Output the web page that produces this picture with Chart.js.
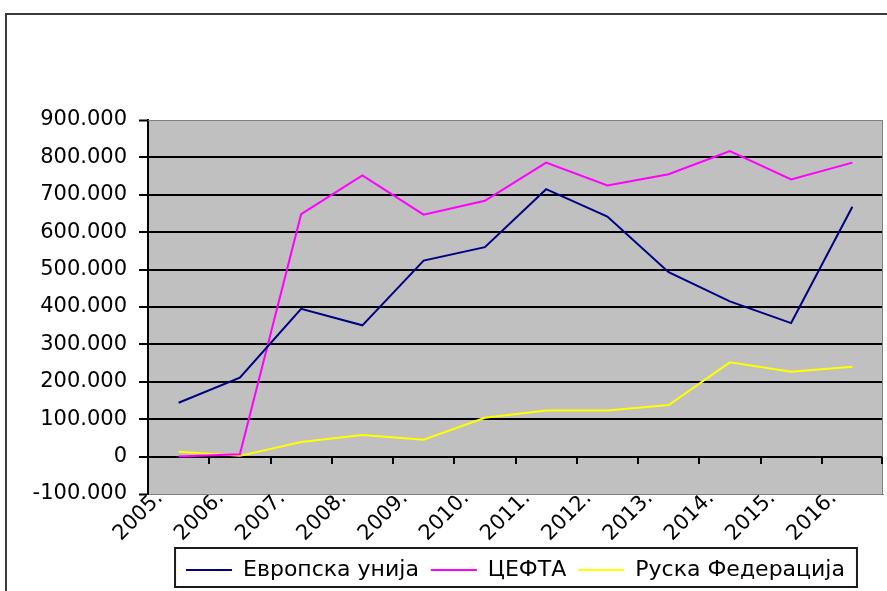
<!DOCTYPE html>
<html><head><meta charset="utf-8">
<script src="https://cdn.jsdelivr.net/npm/chart.js@4.4.1/dist/chart.umd.min.js"></script>
<style>
html,body{margin:0;padding:0;background:#fff;overflow:hidden;width:887px;height:591px}
#wrap{position:absolute;left:0;top:0;width:887px;height:591px}
</style></head><body>
<div id="wrap"><canvas id="c" width="887" height="591"></canvas></div>
<script>
const years = ['2005.','2006.','2007.','2008.','2009.','2010.','2011.','2012.','2013.','2014.','2015.','2016.'];
const euValues = [144000, 211000, 395000, 351000, 524000, 560000, 715000, 642000, 493000, 415000, 357000, 668000];
const ceftaValues = [0, 6000, 648000, 752000, 647000, 684000, 786000, 725000, 755000, 817000, 741000, 786000];
const russiaValues = [13000, 2000, 39000, 58000, 45000, 104000, 123000, 123000, 138000, 252000, 227000, 240000];
const seriesNames = ['Европска унија', 'ЦЕФТА', 'Руска Федерација'];
const yMin = -100000, yMax = 900000, yStep = 100000;

const FONT = 'DejaVu Sans';
function fmt(v){
  const s = String(Math.abs(v)).replace(/\B(?=(\d{3})+(?!\d))/g, '.');
  return (v < 0 ? '-' : '') + s;
}

const framePlugin = {
  id: 'framePlugin',
  beforeDraw(chart){
    const {ctx, chartArea: a, width, height} = chart;
    ctx.save();
    ctx.fillStyle = '#3a3a3a';
    ctx.fillRect(5, 13, 2, height - 13);
    ctx.fillRect(5, 13, width - 5, 2);
    ctx.fillStyle = '#c0c0c0';
    ctx.fillRect(a.left, a.top, a.right - a.left, a.bottom - a.top);
    ctx.restore();
    ctx.beginPath();
  },
  beforeDatasetsDraw(chart){
    const {ctx, chartArea: a} = chart;
    const xs = chart.scales.x, ys = chart.scales.y;
    ctx.save();
    ctx.strokeStyle = '#808080';
    ctx.lineWidth = 1;
    ctx.beginPath();
    ctx.moveTo(a.left, a.top + 0.5);
    ctx.lineTo(a.right - 0.5, a.top + 0.5);
    ctx.lineTo(a.right - 0.5, a.bottom);
    ctx.stroke();
    const y0 = Math.round(ys.getPixelForValue(0));
    ctx.strokeStyle = '#000';
    ctx.lineWidth = 2;
    ctx.beginPath();
    for (let i = 0; i <= years.length; i++) {
      const px = Math.min(Math.round(xs.getPixelForValue(i - 0.5)), a.right - 1);
      ctx.moveTo(px, y0);
      ctx.lineTo(px, y0 + 7);
    }
    ctx.stroke();
    ctx.restore();
    ctx.beginPath();
  },
  afterDraw(chart){
    const {ctx} = chart;
    const lg = chart.legend;
    const hb = lg.legendHitBoxes;
    if (!hb || !hb.length) return;
    const l = hb[0].left - 11;
    const last = hb[hb.length - 1];
    const r = last.left + last.width + 12;
    ctx.save();
    ctx.strokeStyle = '#1a1a1a';
    ctx.lineWidth = 2;
    ctx.beginPath();
    ctx.rect(l, lg.top + 1, r - l, lg.bottom - lg.top - 2);
    ctx.stroke();
    ctx.restore();
    ctx.beginPath();
  }
};

new Chart(document.getElementById('c'), {
  type: 'line',
  data: {
    labels: years,
    datasets: [
      {label: seriesNames[0], data: euValues, borderColor: '#000080', backgroundColor: '#000080', borderWidth: 2},
      {label: seriesNames[1], data: ceftaValues, borderColor: '#ff00ff', backgroundColor: '#ff00ff', borderWidth: 2},
      {label: seriesNames[2], data: russiaValues, borderColor: '#ffff00', backgroundColor: '#ffff00', borderWidth: 2}
    ]
  },
  options: {
    responsive: false,
    animation: false,
    devicePixelRatio: 1,
    elements: {
      line: {borderWidth: 2, tension: 0, fill: false},
      point: {radius: 0, hoverRadius: 0}
    },
    layout: {padding: {left: 0, right: 4, top: 120, bottom: 3}},
    plugins: {
      tooltip: {enabled: false},
      legend: {
        position: 'bottom',
        fullSize: false,
        maxHeight: 41,
        labels: {
          usePointStyle: true,
          pointStyle: 'line',
          pointStyleWidth: 46,
          padding: 12,
          color: '#000',
          font: {family: FONT, size: 22}
        }
      }
    },
    scales: {
      x: {
        type: 'category',
        position: 'bottom',
        offset: true,
        grid: {display: false, drawTicks: false},
        border: {display: true, color: '#808080', width: 1},
        ticks: {
          autoSkip: false, minRotation: 45, maxRotation: 45,
          labelOffset: -19, padding: -8,
          color: '#000', font: {family: FONT, size: 21}
        },
        afterFit(s){ s.height = 53; }
      },
      y: {
        min: yMin, max: yMax,
        ticks: {stepSize: yStep, padding: 12, color: '#000', font: {family: FONT, size: 21}, callback: v => fmt(v)},
        grid: {
          color: c => (c.tick && (c.tick.value === yMax || c.tick.value === yMin)) ? '#808080' : '#000',
          lineWidth: c => (c.tick && (c.tick.value === yMax || c.tick.value === yMin)) ? 1 : 2,
          tickLength: 9,
          tickColor: '#000',
          tickWidth: 2
        },
        border: {display: true, color: '#000', width: 2},
        afterFit(s){ s.width = 148; }
      }
    }
  },
  plugins: [framePlugin]
});
</script>
</body></html>
